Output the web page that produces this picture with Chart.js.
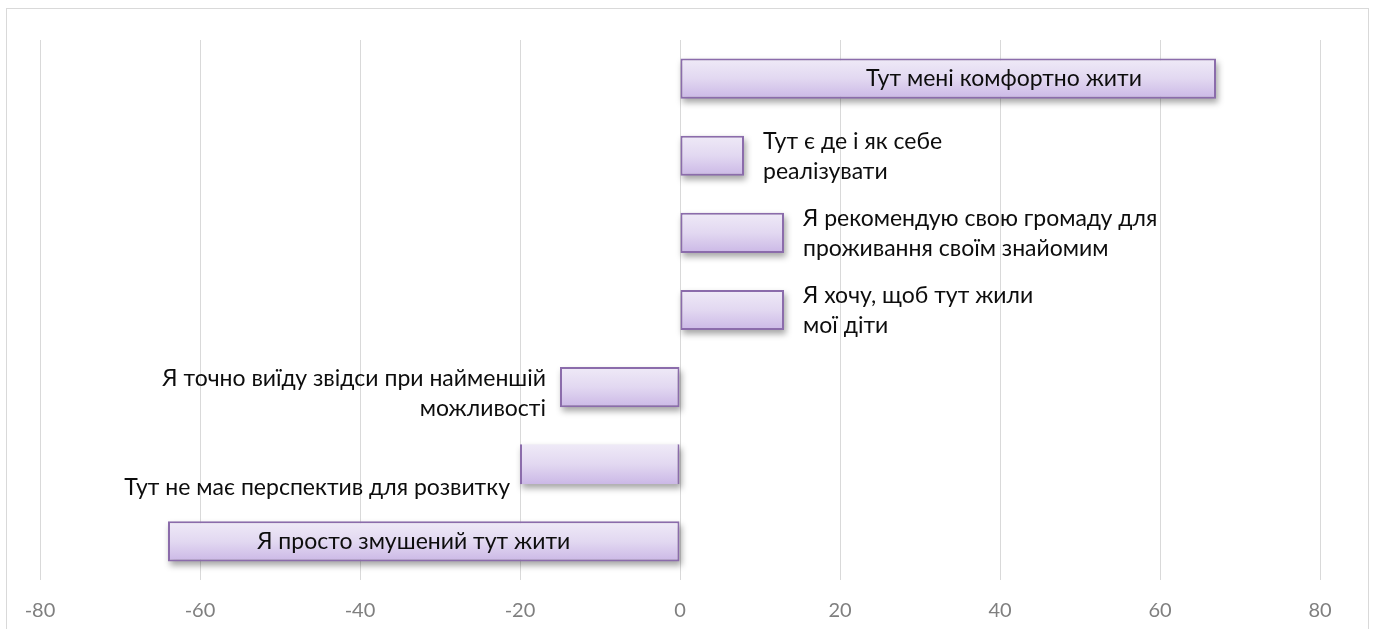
<!DOCTYPE html>
<html>
<head>
<meta charset="utf-8">
<script src="https://cdn.jsdelivr.net/npm/chart.js@4"></script>
<style>
  html, body { margin: 0; padding: 0; background: #fff; overflow: hidden; }
  #frame { position: absolute; left: 6px; top: 8px; width: 1361px; height: 630px; border: 1px solid #d9d9d9; }
  #wrap { position: absolute; left: 0; top: 0; width: 1377px; height: 629px; }
</style>
</head>
<body>
<div id="frame"></div>
<div id="wrap"><canvas id="js--chart"></canvas></div>
<script>
const categories = [
    ['Тут мені комфортно жити'],
    ['Тут є де і як себе', 'реалізувати'],
    ['Я рекомендую свою громаду для', 'проживання своїм знайомим'],
    ['Я хочу, щоб тут жили', 'мої діти'],
    ['Я точно виїду звідси при найменшій', 'можливості'],
    ['Тут не має перспектив для розвитку'],
    ['Я просто змушений тут жити']
];
const values = [67, 8, 13, 13, -15, -20, -64];
const xMin = -80;
const xMax = 80;
const xStep = 20;

const FONT = 'Lato, "Open Sans", sans-serif';

function barFill(context) {
    const chart = context.chart;
    if (!chart.chartArea) return '#ddd0ee';
    const y = chart.scales.y.getPixelForValue(context.dataIndex);
    const h = 40;
    const g = chart.ctx.createLinearGradient(0, y - h / 2, 0, y + h / 2);
    g.addColorStop(0, '#efeaf7');
    g.addColorStop(0.5, '#e2d8f1');
    g.addColorStop(1, '#cbb8e6');
    return g;
}

// soft shadow under each bar
const shadowPlugin = {
    id: 'shadow',
    beforeDatasetsDraw(chart) {
        const c = chart.ctx;
        c.save();
        c.filter = 'blur(3px)';
        c.fillStyle = 'rgba(0,0,0,0.35)';
        chart.getDatasetMeta(0).data.forEach(bar => {
            const left = Math.min(bar.x, bar.base);
            const w = Math.abs(bar.x - bar.base);
            c.fillRect(left + 2, bar.y - bar.height / 2 + 4, w, bar.height);
        });
        c.restore();
    }
};

// category texts placed next to / inside bars
const labelPlugin = {
    id: 'barLabels',
    afterDatasetsDraw(chart) {
        const c = chart.ctx;
        const meta = chart.getDatasetMeta(0);
        c.save();
        c.font = '23px ' + FONT;
        c.fillStyle = '#0d0d0d';
        c.textBaseline = 'middle';
        const lh = 30;
        meta.data.forEach((bar, i) => {
            const lines = categories[i];
            const left = Math.min(bar.x, bar.base);
            const right = Math.max(bar.x, bar.base);
            if (i === 0) {
                c.textAlign = 'center';
                c.fillText(lines[0], right - 212, bar.y);
            } else if (i === 6) {
                c.textAlign = 'center';
                c.fillText(lines[0], (left + right) / 2 - 10, bar.y);
            } else if (i === 5) {
                c.textAlign = 'right';
                c.fillText(lines[0], left - 10, bar.y + 23);
            } else if (values[i] > 0) {
                c.textAlign = 'left';
                lines.forEach((t, k) => c.fillText(t, right + 19, bar.y - 14 + k * lh));
            } else {
                c.textAlign = 'right';
                lines.forEach((t, k) => c.fillText(t, left - 14, bar.y - 9 + k * lh));
            }
        });
        c.restore();
    }
};

new Chart(document.getElementById('js--chart'), {
    type: 'bar',
    data: {
        labels: categories,
        datasets: [{
            data: values,
            backgroundColor: barFill,
            borderColor: '#8b6cab',
            borderWidth: (context) => context.dataIndex === 5
                ? { left: 2, right: 2, top: 0, bottom: 0 }
                : 2,
            borderSkipped: false,
            categoryPercentage: 1,
            barPercentage: 0.52
        }]
    },
    options: {
        indexAxis: 'y',
        responsive: true,
        maintainAspectRatio: false,
        animation: false,
        layout: { padding: { left: 40, right: 57, top: 40, bottom: 0 } },
        plugins: {
            legend: { display: false },
            tooltip: { enabled: false }
        },
        scales: {
            x: {
                min: xMin,
                max: xMax,
                afterFit(scale) { scale.height = 49; },
                ticks: {
                    stepSize: xStep,
                    color: '#7f7f7f',
                    font: { family: FONT, size: 20 },
                    padding: 19
                },
                grid: { color: '#d9d9d9', lineWidth: 1, drawTicks: false },
                border: { display: false }
            },
            y: {
                display: false,
                grid: { display: false }
            }
        }
    },
    plugins: [shadowPlugin, labelPlugin]
});
</script>
</body>
</html>
